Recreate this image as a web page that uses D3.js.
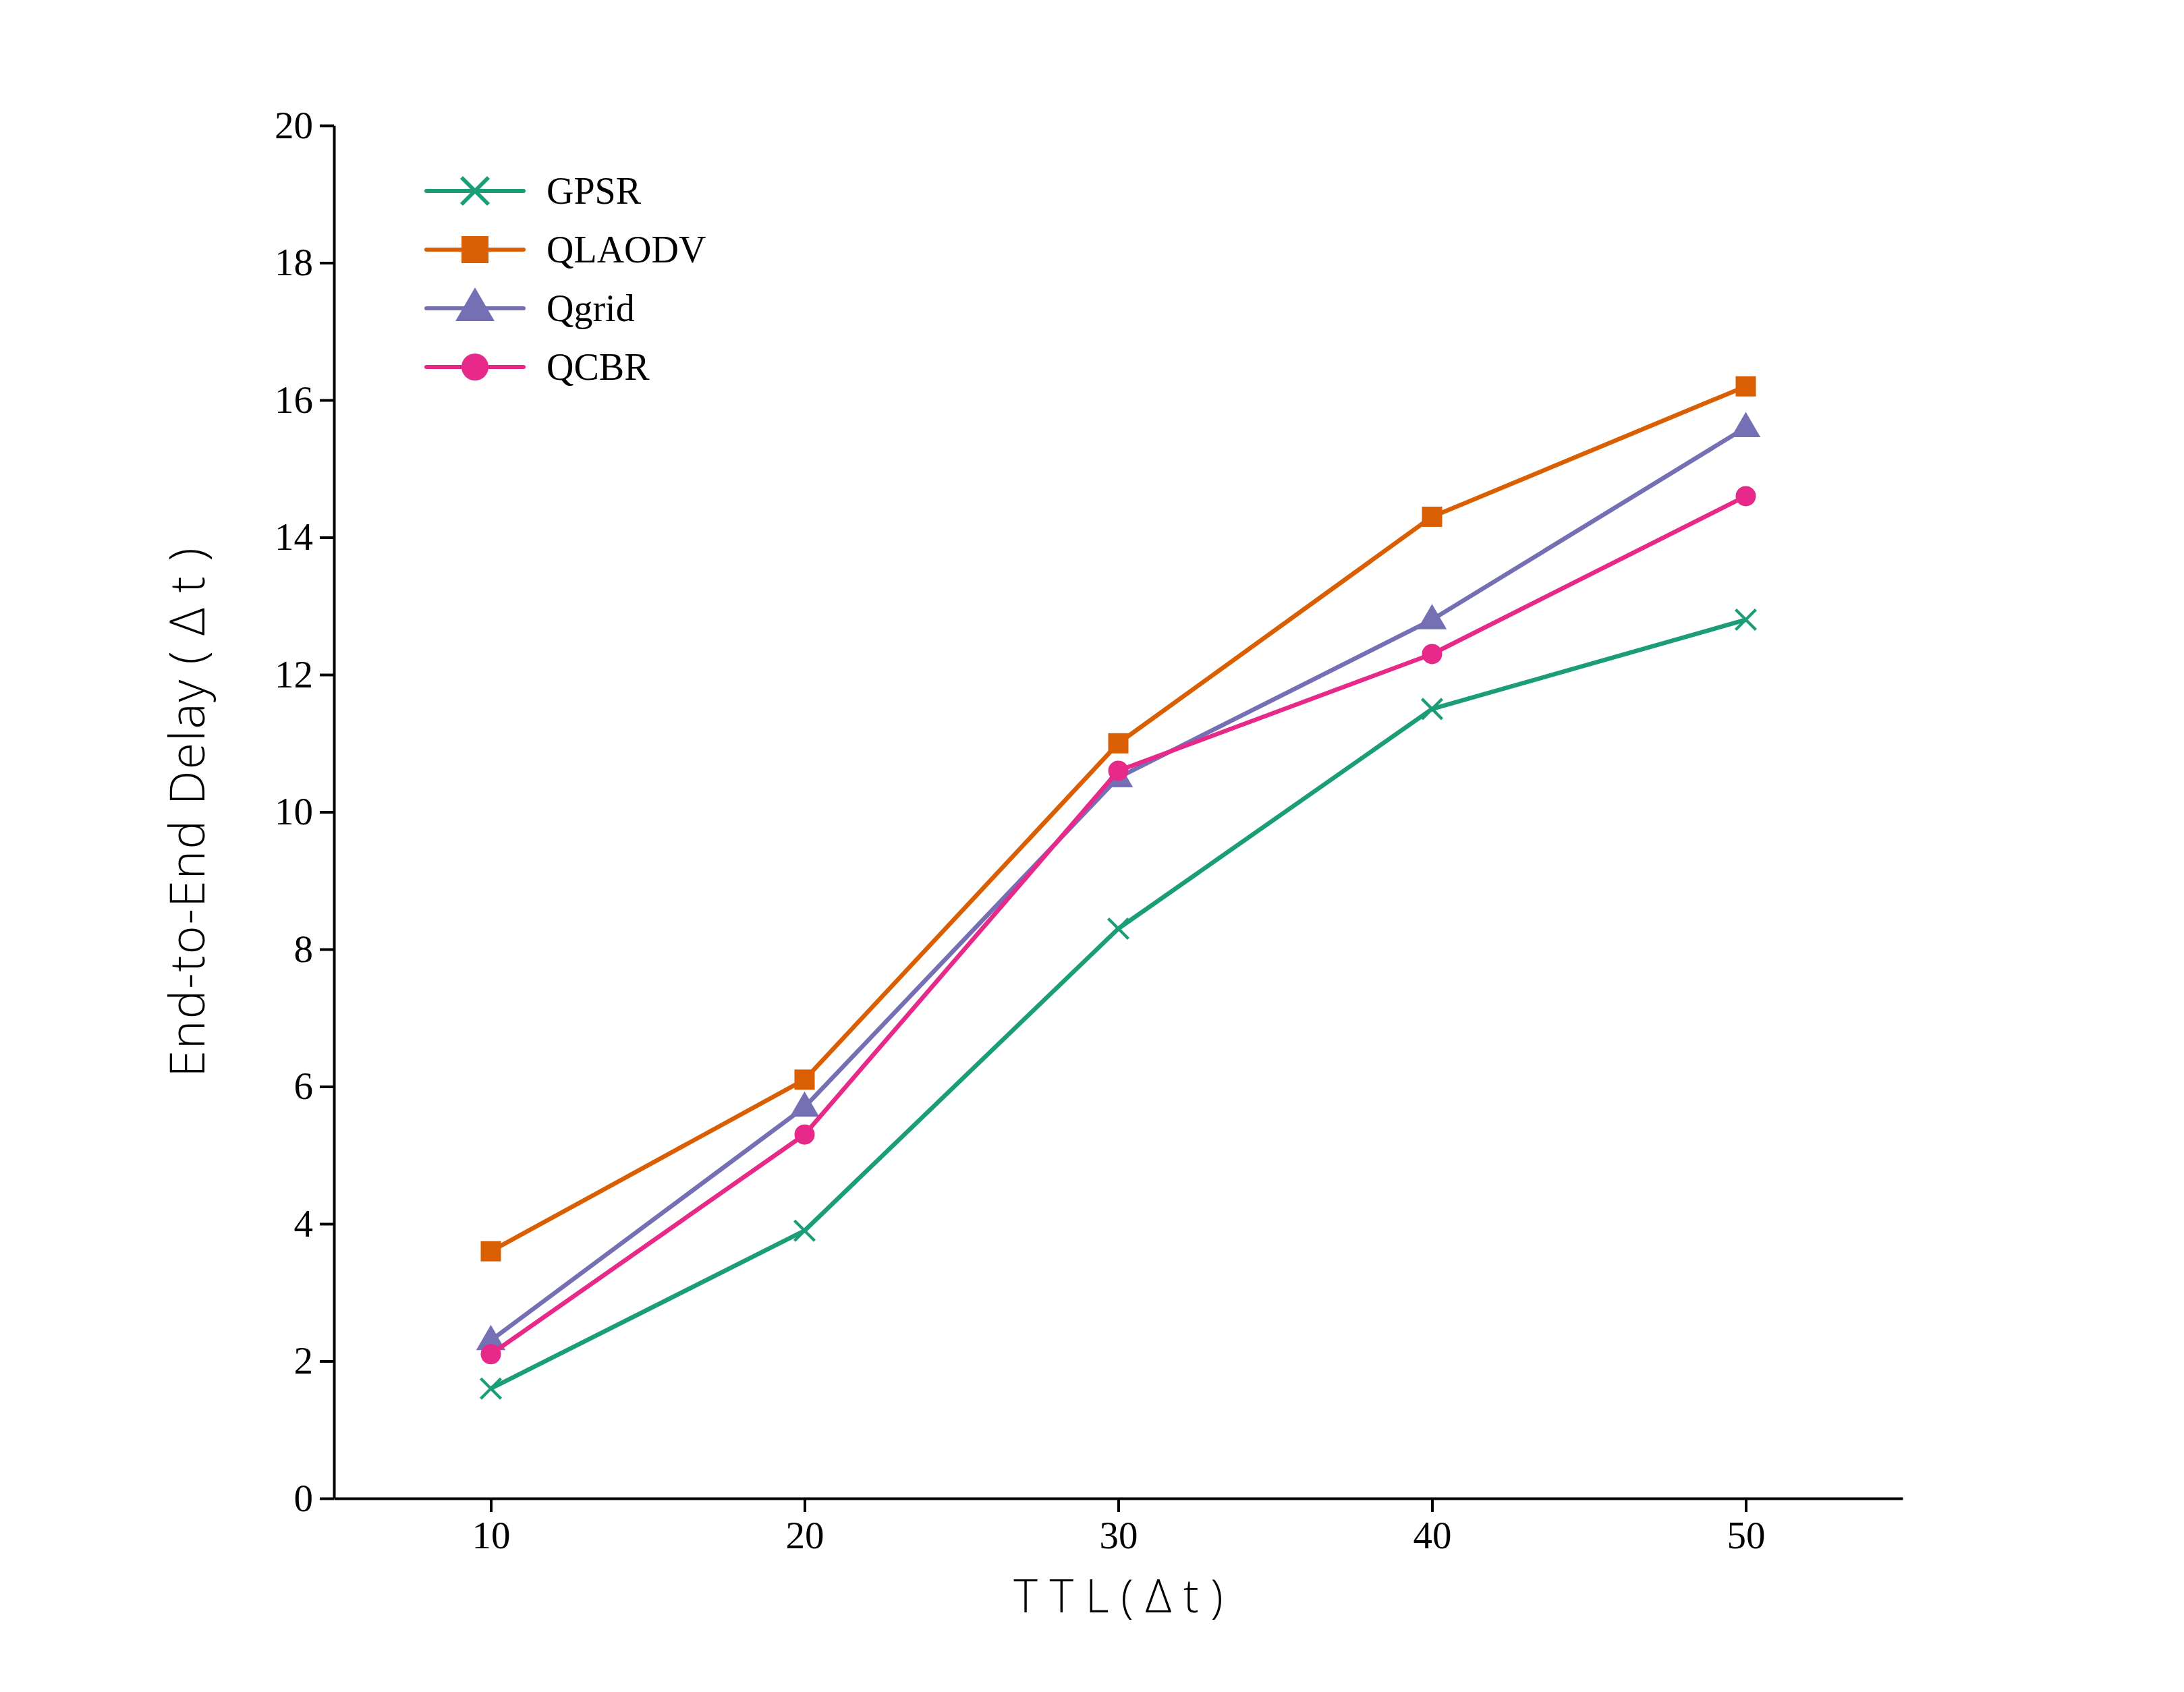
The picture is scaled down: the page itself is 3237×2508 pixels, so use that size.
<!DOCTYPE html>
<html>
<head>
<meta charset="utf-8">
<script src="https://cdn.jsdelivr.net/npm/d3@7"></script>
<style>
  body { margin: 0; background: #fff; }
  .tick text { font-family: "Liberation Serif", "Times New Roman", serif; }
</style>
</head>
<body>
<div id="chart"></div>
<script>
// TTL values on the x axis
const ttl = [10, 20, 30, 40, 50];

// Series values
const gpsr = [1.6, 3.9, 8.3, 11.5, 12.8];
const qlaodv = [3.6, 6.1, 11.0, 14.3, 16.2];
const qgrid = [2.3, 5.7, 10.5, 12.8, 15.6];
const qcbr = [2.1, 5.3, 10.6, 12.3, 14.6];

const seriesNames = ['GPSR', 'QLAODV', 'Qgrid', 'QCBR'];
const yTicks = [0, 2, 4, 6, 8, 10, 12, 14, 16, 18, 20];

(function() {
  const width = 3237;
  const height = 2508;
  const margin = {top: 186, right: 417, bottom: 287, left: 495};

  const series = [
    {name: seriesNames[0], values: gpsr, color: '#1b9e77', shape: 'cross'},
    {name: seriesNames[1], values: qlaodv, color: '#d95f02', shape: 'square'},
    {name: seriesNames[2], values: qgrid, color: '#7570b3', shape: 'triangle'},
    {name: seriesNames[3], values: qcbr, color: '#e7298a', shape: 'circle'}
  ];

  const svg = d3.select('#chart')
    .append('svg')
    .attr('width', width)
    .attr('height', height);

  const x = d3.scaleLinear()
    .domain([5, 55])
    .range([margin.left, width - margin.right]);
  const y = d3.scaleLinear()
    .domain([0, 20])
    .range([height - margin.bottom, margin.top]);

  // Axes
  const xAxis = svg.append('g')
    .attr('transform', `translate(0, ${y(0)})`)
    .call(d3.axisBottom(x).tickValues(ttl).tickSize(20).tickPadding(14).tickSizeOuter(0));
  const yAxis = svg.append('g')
    .attr('transform', `translate(${x(5)}, 0)`)
    .call(d3.axisLeft(y).tickValues(yTicks).tickSize(21).tickPadding(10).tickSizeOuter(0));

  [xAxis, yAxis].forEach(a => {
    a.select('.domain').attr('stroke', '#000').attr('stroke-width', 4);
    a.selectAll('.tick line').attr('stroke', '#000').attr('stroke-width', 4);
    a.selectAll('.tick text').style('font-size', '57px').attr('fill', '#000');
  });

  // Axis titles
  svg.append('text')
    .text('T T L ( \u0394 t )')
    .attr('x', (x(5) + x(55)) / 2)
    .attr('y', 2390)
    .style('text-anchor', 'middle')
    .style('font-family', '"Open Sans", sans-serif')
    .style('font-weight', 300)
    .style('font-size', '68px');

  svg.append('text')
    .text('End-to-End Delay ( \u0394 t )')
    .attr('transform', `translate(303, ${(y(0) + y(20)) / 2}) rotate(-90)`)
    .style('text-anchor', 'middle')
    .style('font-family', '"Open Sans", sans-serif')
    .style('font-weight', 300)
    .style('letter-spacing', '2px')
    .style('font-size', '72px');

  // Marker drawing helper
  const drawMarker = (g, shape, color, size) => {
    if (shape === 'cross') {
      const h = size / 2;
      g.append('path')
        .attr('d', `M ${-h} ${-h} L ${h} ${h} M ${-h} ${h} L ${h} ${-h}`)
        .attr('stroke', color)
        .attr('stroke-width', size / 7)
        .attr('fill', 'none');
    } else if (shape === 'square') {
      g.append('rect')
        .attr('x', -size / 2)
        .attr('y', -size / 2)
        .attr('width', size)
        .attr('height', size)
        .attr('fill', color);
    } else if (shape === 'triangle') {
      const w = size * 1.45;
      const hgt = size * 1.25;
      g.append('path')
        .attr('d', `M 0 ${-hgt * 0.62} L ${w / 2} ${hgt * 0.38} L ${-w / 2} ${hgt * 0.38} Z`)
        .attr('fill', color);
    } else {
      g.append('circle')
        .attr('r', size / 2)
        .attr('fill', color);
    }
  };

  // Lines and markers
  const line = d3.line()
    .x((d, i) => x(ttl[i]))
    .y(d => y(d));

  series.forEach(s => {
    svg.append('path')
      .datum(s.values)
      .attr('d', line)
      .attr('fill', 'none')
      .attr('stroke', s.color)
      .attr('stroke-width', 6.5)
      .attr('stroke-linejoin', 'round');

    s.values.forEach((v, i) => {
      const g = svg.append('g')
        .attr('transform', `translate(${x(ttl[i])}, ${y(v)})`);
      drawMarker(g, s.shape, s.color, 30);
    });
  });

  // Legend
  const legend = svg.append('g')
    .selectAll('g')
    .data(series)
    .enter()
    .append('g')
    .attr('transform', (d, i) => `translate(632, ${283 + i * 87})`);

  legend.append('line')
    .attr('x1', 0)
    .attr('x2', 144)
    .attr('stroke', d => d.color)
    .attr('stroke-width', 6)
    .attr('stroke-linecap', 'round');

  legend.each(function(d) {
    const g = d3.select(this).append('g').attr('transform', 'translate(72, 0)');
    drawMarker(g, d.shape, d.color, 40);
  });

  legend.append('text')
    .text(d => d.name)
    .attr('x', 178)
    .attr('y', 19)
    .style('font-family', '"Liberation Serif", "Times New Roman", serif')
    .style('font-size', '56px');
})();
</script>
</body>
</html>
